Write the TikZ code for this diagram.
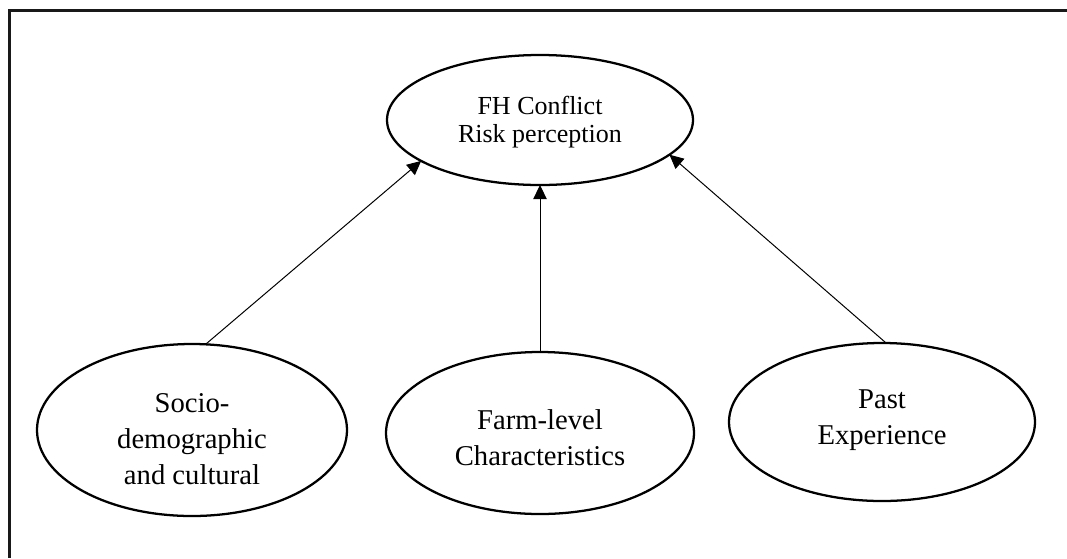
\documentclass[tikz,border=0pt]{standalone}
\usepackage{fontspec}
\setmainfont{Liberation Serif}
\usetikzlibrary{shapes.geometric,arrows.meta}
\begin{document}
\begin{tikzpicture}[x=0.75pt,y=-0.75pt,
  ell/.style={draw=black, line width=1.7pt, ellipse, inner sep=0pt, outer sep=0pt},
  txt/.style={inner sep=0pt, align=center},
  topfont/.style={font=\fontsize{19.5}{21}\selectfont},
  botfont/.style={font=\fontsize{21.5}{27}\selectfont},
  conn/.style={line width=0.75pt, -{Triangle[length=10.5pt,width=10pt]}},
  frame/.style={line width=2.2pt, draw=black!90}]
\useasboundingbox (0,0) rectangle (1067,558);
\coordinate (tl) at (9.5,10.3);
\coordinate (tr) at (1067,10.3);
\coordinate (bl) at (9.5,558);
\draw[frame] (tr) -- (tl) -- (bl);

\node[ell, minimum width=229.5pt, minimum height=97.5pt] (risk) at (540,120) {};
\node[ell, minimum width=232.5pt, minimum height=129pt] (soc) at (192,430) {};
\node[ell, minimum width=231pt, minimum height=121.5pt] (farm) at (540,433) {};
\node[ell, minimum width=229.5pt, minimum height=118.5pt] (past) at (882,422) {};

\node[txt, topfont] (risktxt) at (540,122) {FH Conflict\\Risk perception};
\node[txt, botfont] (soctxt) at (192,439) {Socio-\\demographic\\and cultural};
\node[txt, botfont] (farmtxt) at (540,438) {Farm-level\\Characteristics};
\node[txt, botfont] (pasttxt) at (882,420) {Past\\Experience};

\draw[conn] (soc.81.5) -- (risk.199);
\draw[conn] (farm.north) -- (risk.south);
\draw[conn] (past.87) -- (risk.345);
\end{tikzpicture}
\end{document}
